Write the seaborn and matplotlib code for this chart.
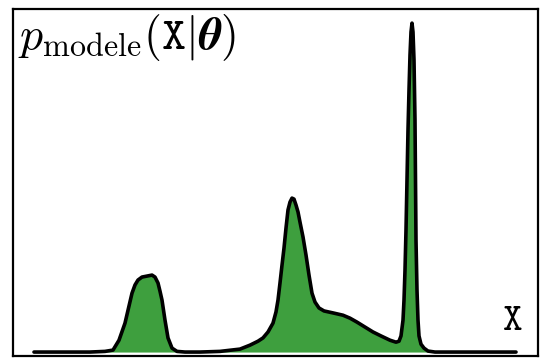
import numpy as np
import pandas as pd
import matplotlib
matplotlib.use("Agg")
import matplotlib.pyplot as plt
import seaborn as sns

# curve: position along X and density height (spike peak = 1)
x_vals = [34, 60, 90, 105, 113, 119, 125, 129, 132, 135, 138, 142, 147, 152, 155,
          158, 160, 162, 165, 168, 172, 177, 185, 200, 220, 240, 250, 258, 263, 268,
          273, 276, 278, 280, 282, 284, 286, 288, 290, 292, 294, 296, 298, 300, 303,
          306, 309, 312, 315, 319, 324, 333, 343, 350, 357, 365, 373, 381, 390, 396,
          399, 401, 403, 404, 405, 406, 407, 408, 409, 410, 411, 412, 413, 414, 415,
          415.5, 416, 417, 418, 419, 421, 424, 428, 435, 470, 516]
density = [0, 0, 0, 0.002, 0.006, 0.036, 0.088, 0.140, 0.179, 0.204, 0.219, 0.228, 0.231,
           0.234, 0.228, 0.210, 0.185, 0.158, 0.097, 0.043, 0.012, 0.002, 0, 0, 0.002,
           0.009, 0.021, 0.033, 0.043, 0.061, 0.088, 0.122, 0.158, 0.210, 0.264, 0.316,
           0.377, 0.432, 0.456, 0.468, 0.465, 0.447, 0.426, 0.395, 0.350, 0.295, 0.234,
           0.179, 0.152, 0.134, 0.125, 0.119, 0.112, 0.103, 0.091, 0.076, 0.061, 0.049,
           0.036, 0.030, 0.033, 0.049, 0.097, 0.158, 0.249, 0.371, 0.523, 0.675, 0.796,
           0.903, 0.973, 1.0, 0.973, 0.888, 0.705, 0.523, 0.340, 0.188, 0.097, 0.049,
           0.024, 0.012, 0.003, 0, 0, 0]

title_label = r"$p_{\mathrm{modele}}(\mathtt{X}|\boldsymbol{\theta})$"
x_label = r"$\mathtt{X}$"

df = pd.DataFrame({"x": x_vals, "p": density})

sns.set_theme(style="white")
plt.rcParams["mathtext.fontset"] = "cm"

fig = plt.figure(figsize=(5.41, 3.58), dpi=100)
ax = fig.add_axes([13 / 541, 2 / 358, 525 / 541, 347 / 358])

# green area under the curve, then the black outline
ax.fill_between(df["x"], df["p"], 0, color="#3e9f3e", linewidth=0)
sns.lineplot(data=df, x="x", y="p", ax=ax, color="black", linewidth=2.6,
             sort=False, estimator=None)

ax.set_xlim(13, 538)
ax.set_ylim(-0.012, 1.043)
ax.set_xticks([])
ax.set_yticks([])
ax.set_xlabel("")
ax.set_ylabel("")
for s in ax.spines.values():
    s.set_color("black")
    s.set_linewidth(1.6)

ax.text(0.01, 0.99, title_label, transform=ax.transAxes, ha="left", va="top",
        fontsize=33, color="black")
ax.text(0.951, 0.105, x_label, transform=ax.transAxes, ha="center", va="center",
        fontsize=27, color="black")

fig.savefig("out.png", dpi=100)
